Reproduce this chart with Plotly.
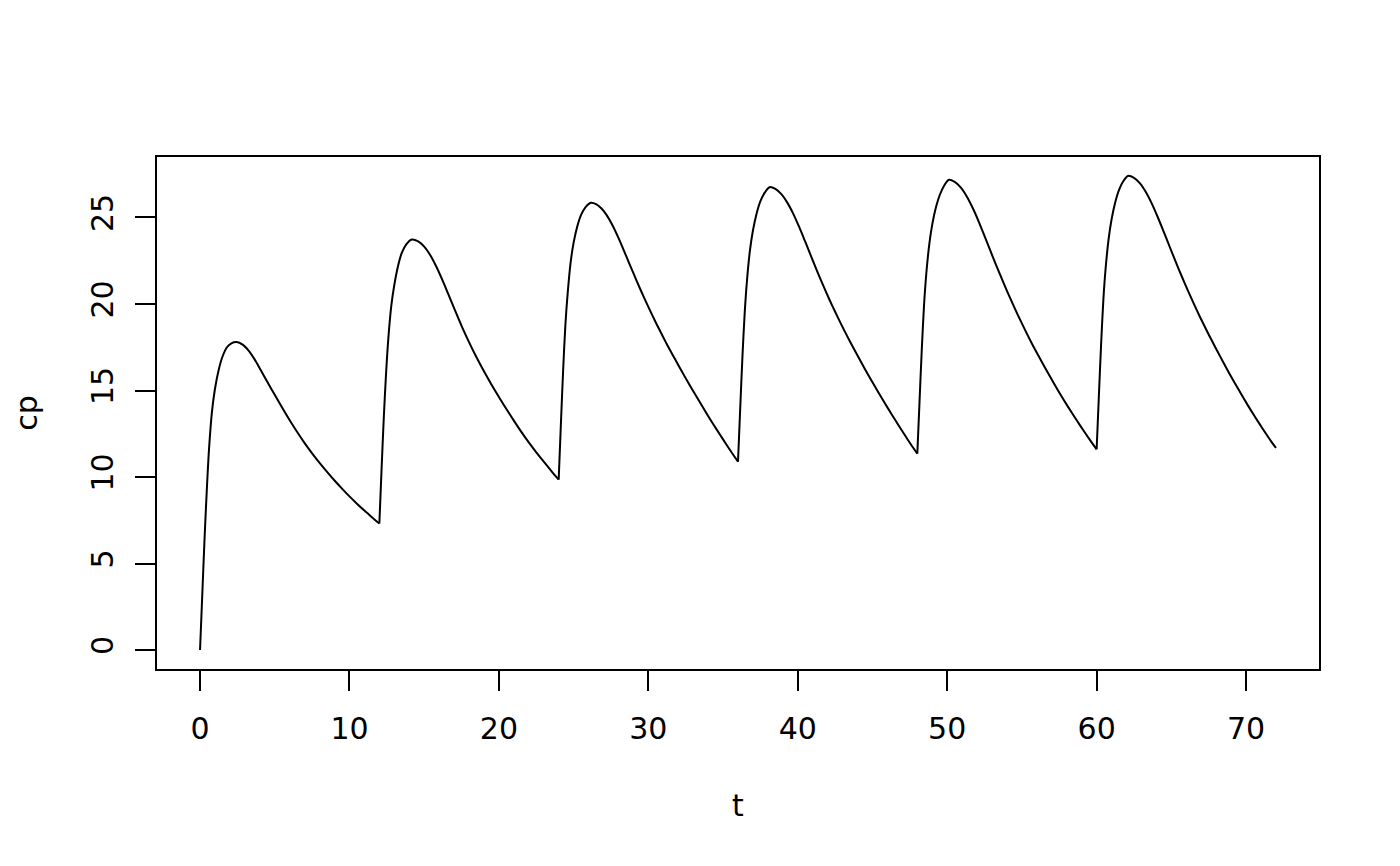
import plotly.graph_objects as go

# Values (time t, concentration cp)
t = [0, 0.15, 0.3, 0.45, 0.6, 0.8, 1.0, 1.25, 1.5, 1.8, 2.1, 2.45,
     2.85, 3.25, 3.65, 4.05, 4.5, 5.0, 5.5, 6.0, 6.5, 7.0, 7.5, 8.0, 8.5, 9.0, 9.5, 10.0, 10.5, 11.0, 11.5, 12.0,
     12.15, 12.3, 12.45, 12.6, 12.8, 13.0, 13.25, 13.5, 13.8, 14.17,
     14.6, 15.0, 15.4, 15.8, 16.2, 16.6, 17.0, 17.5, 18.0, 18.5, 19.0, 19.5, 20.0, 20.5, 21.0, 21.5, 22.0, 22.5, 23.0, 23.5, 24.0,
     24.15, 24.3, 24.45, 24.6, 24.8, 25.0, 25.25, 25.5, 25.8, 26.15,
     26.5, 26.85, 27.2, 27.6, 28.0, 28.5, 29.0, 29.5, 30.0, 30.5, 31.0, 31.24, 31.6, 32.0, 32.4, 32.8, 33.2, 33.6, 34.0, 34.4, 34.8, 35.2, 35.6, 36.0,
     36.15, 36.3, 36.45, 36.6, 36.8, 37.0, 37.25, 37.5, 37.8, 38.11,
     38.5, 38.9, 39.3, 39.7, 40.1, 40.5, 40.9, 41.3, 41.7, 42.1, 42.5, 42.9, 43.29, 43.7, 44.1, 44.5, 44.9, 45.3, 45.7, 46.1, 46.5, 46.9, 47.3, 47.7, 48.0,
     48.15, 48.3, 48.45, 48.6, 48.8, 49.0, 49.25, 49.5, 49.8, 50.09,
     50.5, 50.9, 51.3, 51.7, 52.1, 52.5, 52.9, 53.3, 53.7, 54.1, 54.5, 54.9, 55.33, 55.7, 56.1, 56.5, 56.9, 57.3, 57.7, 58.1, 58.5, 58.9, 59.3, 59.7, 60.0,
     60.15, 60.3, 60.45, 60.6, 60.8, 61.0, 61.25, 61.5, 61.8, 62.09,
     62.5, 62.9, 63.3, 63.7, 64.1, 64.5, 64.9, 65.3, 65.7, 66.1, 66.5, 66.9, 67.38, 67.7, 68.1, 68.5, 68.9, 69.3, 69.7, 70.1, 70.5, 70.9, 71.3, 71.7, 72.0]
cp = [0, 3.2, 6.4, 9.2, 11.6, 13.8, 15.1, 16.2, 16.95, 17.5, 17.73, 17.8,
      17.65, 17.3, 16.8, 16.2, 15.5, 14.75, 14.0, 13.28, 12.6, 11.96, 11.37, 10.82, 10.3, 9.8, 9.33, 8.88, 8.46, 8.06, 7.68, 7.31,
      10.5, 13.5, 16.0, 18.0, 19.9, 21.1, 22.2, 22.95, 23.45, 23.73,
      23.62, 23.32, 22.83, 22.18, 21.42, 20.6, 19.76, 18.74, 17.8, 16.92, 16.11, 15.35, 14.63, 13.93, 13.26, 12.61, 12.0, 11.43, 10.89, 10.36, 9.85,
      13.1, 16.2, 18.8, 20.6, 22.4, 23.55, 24.5, 25.15, 25.6, 25.85,
      25.77, 25.53, 25.15, 24.55, 23.82, 22.81, 21.78, 20.78, 19.83, 18.93, 18.08, 17.67, 17.1, 16.48, 15.86, 15.26, 14.68, 14.1, 13.53, 12.98, 12.44, 11.91, 11.39, 10.88,
      14.0, 17.0, 19.5, 21.35, 23.1, 24.25, 25.25, 25.95, 26.45, 26.75,
      26.65, 26.35, 25.86, 25.21, 24.44, 23.6, 22.74, 21.89, 21.07, 20.29, 19.55, 18.84, 18.17, 17.5, 16.86, 16.23, 15.62, 15.03, 14.45, 13.88, 13.32, 12.77, 12.24, 11.72, 11.35,
      14.4, 17.4, 19.95, 21.75, 23.45, 24.6, 25.6, 26.3, 26.85, 27.17,
      27.06, 26.74, 26.23, 25.56, 24.78, 23.92, 23.05, 22.19, 21.36, 20.56, 19.79, 19.05, 18.29, 17.66, 17.02, 16.39, 15.78, 15.18, 14.6, 14.04, 13.5, 12.97, 12.46, 11.96, 11.6,
      14.7, 17.7, 20.25, 22.05, 23.75, 24.9, 25.9, 26.6, 27.12, 27.4,
      27.29, 26.97, 26.46, 25.79, 25.0, 24.15, 23.28, 22.42, 21.59, 20.79, 20.02, 19.28, 18.44, 17.9, 17.24, 16.59, 15.96, 15.35, 14.75, 14.17, 13.61, 13.07, 12.54, 12.03, 11.68]
dose_times = [0, 12, 24, 36, 48, 60, 72]
x_ticks = [0, 10, 20, 30, 40, 50, 60, 70]
y_ticks = [0, 5, 10, 15, 20, 25]

fig = go.Figure()
for a, b in zip(dose_times[:-1], dose_times[1:]):
    seg = [(ti, ci) for ti, ci in zip(t, cp) if a <= ti <= b]
    fig.add_trace(go.Scatter(
        x=[s[0] for s in seg], y=[s[1] for s in seg], mode="lines",
        line=dict(color="black", width=2, shape="spline", smoothing=0.8),
        showlegend=False, hoverinfo="x+y"))

xmin, xmax = min(t), max(t)
ymin, ymax = min(cp), max(cp)
xr = [xmin - 0.04 * (xmax - xmin), xmax + 0.04 * (xmax - xmin)]
yr = [ymin - 0.04 * (ymax - ymin), ymax + 0.04 * (ymax - ymin)]

font = dict(family="DejaVu Sans", size=30, color="black")
fig.update_layout(
    width=1400, height=866,
    margin=dict(l=157, r=81, t=157, b=197),
    paper_bgcolor="white", plot_bgcolor="white",
    font=font,
    xaxis=dict(range=xr, tickvals=x_ticks, ticktext=[str(v) for v in x_ticks],
               showgrid=False, zeroline=False, showline=True, mirror=True,
               linecolor="black", linewidth=2, ticks="outside", ticklen=20,
               tickwidth=1.5, tickcolor="black", ticklabelstandoff=12,
               title=dict(text="t", font=font, standoff=50)),
    yaxis=dict(range=yr, tickvals=y_ticks, ticktext=[str(v) for v in y_ticks],
               showgrid=False, zeroline=False, showline=True, mirror=True,
               linecolor="black", linewidth=2, ticks="outside", ticklen=20,
               tickwidth=1.5, tickcolor="black", tickangle=-90, ticklabelstandoff=10,
               title=dict(text="cp", font=font, standoff=39)),
)
fig.write_html("out.html", config={"displayModeBar": False},
               post_script="document.body.style.margin='0px';")
